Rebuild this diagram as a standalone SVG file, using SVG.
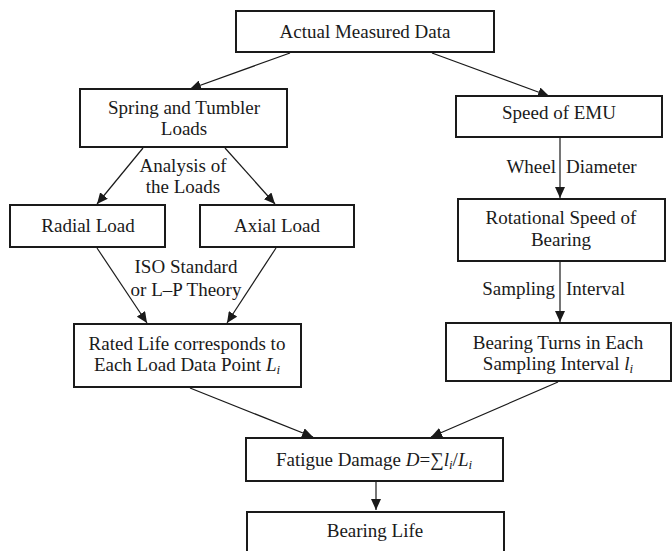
<svg xmlns="http://www.w3.org/2000/svg" width="672" height="551" viewBox="0 0 672 551">
<style>
.box{fill:#fff;stroke:#1a1a1a;stroke-width:2}
.t{font-family:'Liberation Serif','Times New Roman',Times,serif;font-size:19px;fill:#1a1a1a;text-anchor:middle}
.l{text-anchor:end}
.r{text-anchor:start}
.e{stroke:#1a1a1a;stroke-width:1.2;fill:none;marker-end:url(#ah)}
.i{font-style:italic}
.s{font-style:italic;font-size:13px}
</style>
<defs>
<marker id="ah" markerUnits="userSpaceOnUse" markerWidth="12" markerHeight="10" refX="11" refY="5" orient="auto">
<path d="M0,0 L11,5 L0,10 z" fill="#1a1a1a"/>
</marker>
</defs>
<rect width="672" height="551" fill="#fff"/>
<g id="connectors">
<line class="e" x1="290" y1="53" x2="190" y2="89"/>
<line class="e" x1="432" y1="53" x2="549" y2="96"/>
<line class="e" x1="143" y1="148" x2="97" y2="204"/>
<line class="e" x1="225" y1="148" x2="275" y2="204"/>
<line class="e" x1="97" y1="248" x2="147" y2="323"/>
<line class="e" x1="276" y1="248" x2="227" y2="323"/>
<line class="e" x1="560" y1="138" x2="560" y2="198"/>
<line class="e" x1="560" y1="262" x2="560" y2="322"/>
<line class="e" x1="190" y1="388" x2="313" y2="437"/>
<line class="e" x1="558" y1="382" x2="431" y2="437"/>
<line class="e" x1="376" y1="482" x2="376" y2="510"/>
<text class="t" x="183" y="172">Analysis of</text>
<text class="t" x="183" y="193">the Loads</text>
<text class="t" x="186" y="273">ISO Standard</text>
<text class="t" x="186" y="296">or L–P Theory</text>
<text class="t l" x="556" y="173">Wheel</text>
<text class="t r" x="566" y="173">Diameter</text>
<text class="t l" x="555" y="295">Sampling</text>
<text class="t r" x="566" y="295">Interval</text>
</g>
<g id="actual">
<rect class="box" x="236" y="11" width="258" height="41"/>
<text class="t" x="365" y="38">Actual Measured Data</text>
</g>
<g id="spring">
<rect class="box" x="80" y="89" width="207" height="58"/>
<text class="t" x="184" y="114">Spring and Tumbler</text>
<text class="t" x="184" y="135">Loads</text>
</g>
<g id="speed">
<rect class="box" x="456" y="96" width="206" height="41"/>
<text class="t" x="559" y="119">Speed of EMU</text>
</g>
<g id="radial">
<rect class="box" x="10" y="205" width="155" height="42"/>
<text class="t" x="88" y="232">Radial Load</text>
</g>
<g id="axial">
<rect class="box" x="200" y="205" width="154" height="42"/>
<text class="t" x="277" y="232">Axial Load</text>
</g>
<g id="rotational">
<rect class="box" x="458" y="199" width="207" height="62"/>
<text class="t" x="561" y="224">Rotational Speed of</text>
<text class="t" x="561" y="246">Bearing</text>
</g>
<g id="rated">
<rect class="box" x="74" y="324" width="227" height="63"/>
<text class="t" x="187" y="350">Rated Life corresponds to</text>
<text class="t" x="187" y="371">Each Load Data Point <tspan class="i">L</tspan><tspan class="s" dy="3">i</tspan></text>
</g>
<g id="turns">
<rect class="box" x="446" y="323" width="225" height="58"/>
<text class="t" x="558" y="349">Bearing Turns in Each</text>
<text class="t" x="558" y="370">Sampling Interval <tspan class="i">l</tspan><tspan class="s" dy="3">i</tspan></text>
</g>
<g id="fatigue">
<rect class="box" x="246" y="438" width="257" height="43"/>
<text class="t" x="374" y="466">Fatigue Damage <tspan class="i">D</tspan>=∑<tspan class="i">l</tspan><tspan class="s" dy="3">i</tspan><tspan dy="-3">/</tspan><tspan class="i">L</tspan><tspan class="s" dy="3">i</tspan></text>
</g>
<g id="life">
<rect class="box" x="247" y="512" width="257" height="50"/>
<text class="t" x="375" y="537">Bearing Life</text>
</g>
</svg>
